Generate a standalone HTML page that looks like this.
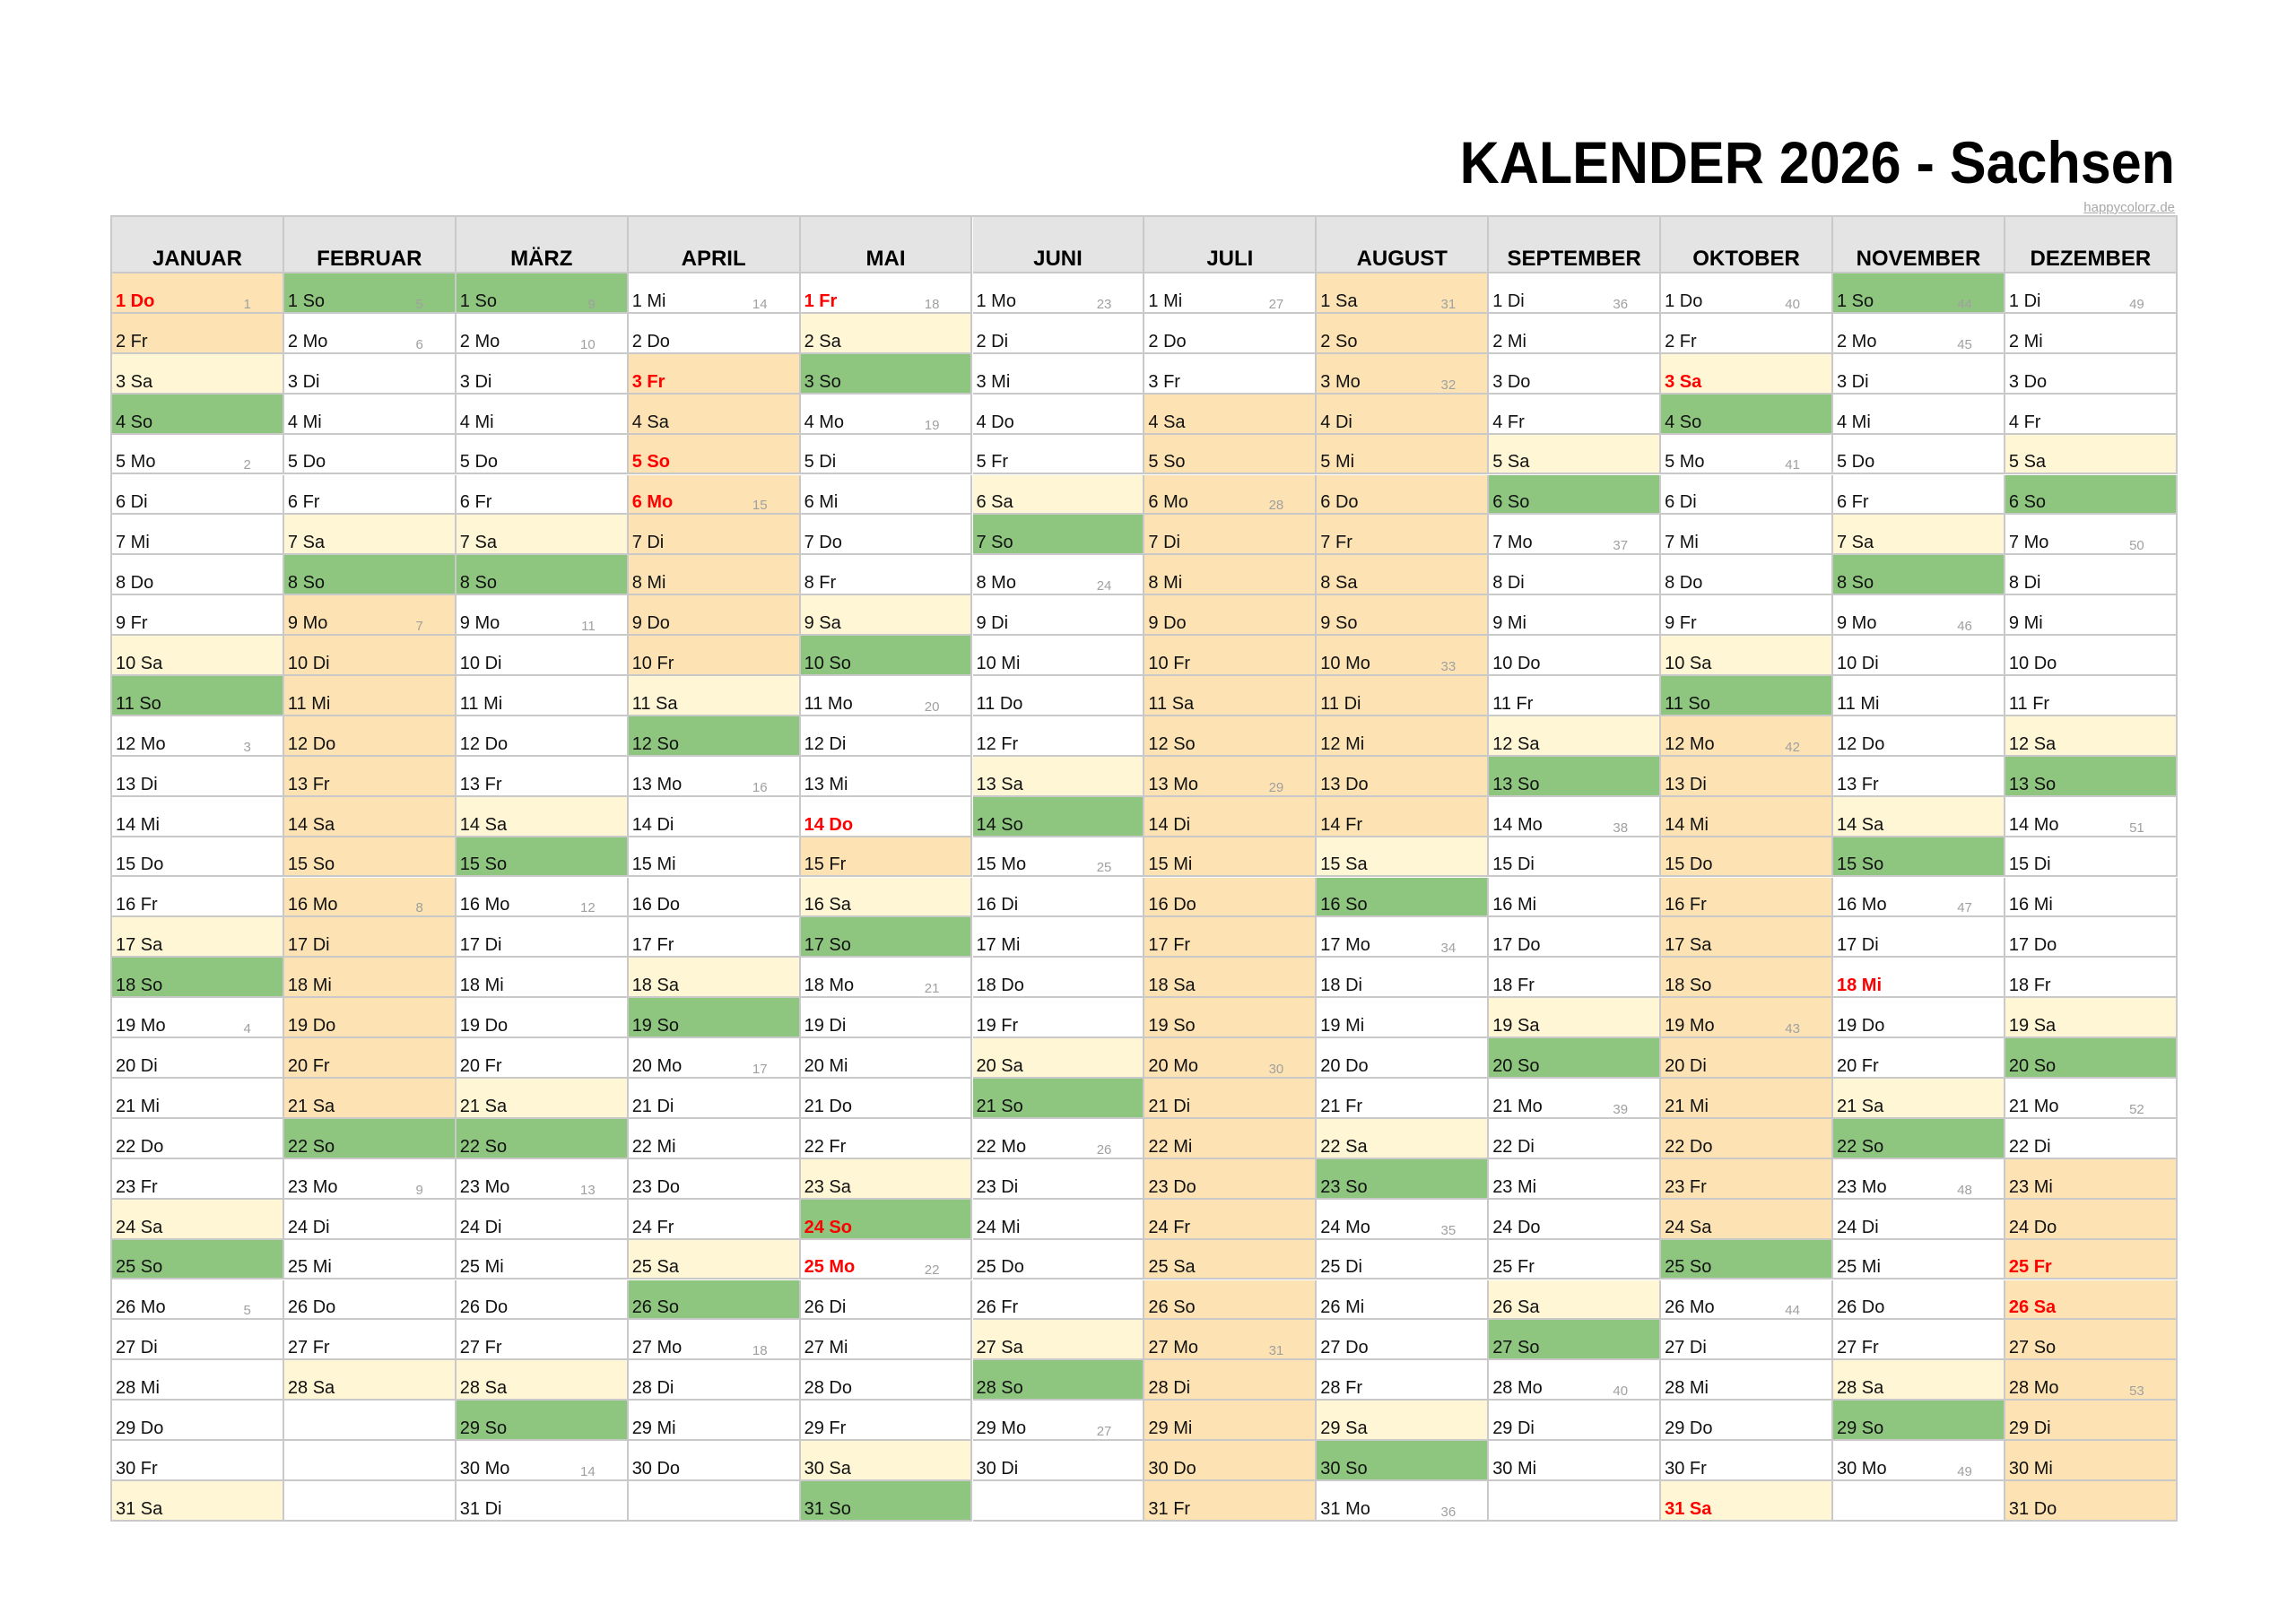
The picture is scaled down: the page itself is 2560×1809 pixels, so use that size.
<!DOCTYPE html>
<html><head><meta charset="utf-8">
<style>
html,body{margin:0;padding:0;background:#fff;}
body{width:2560px;height:1809px;position:relative;overflow:hidden;font-family:"Liberation Sans",Arial,sans-serif;}
#title{position:absolute;right:135px;top:143px;font-size:66px;font-weight:bold;color:#000;white-space:nowrap;transform:scaleX(0.925);transform-origin:right top;}
#src{position:absolute;right:135px;top:223px;font-size:15px;color:#a8a8a8;text-decoration:underline;}
.c{position:absolute;box-sizing:border-box;border-right:2px solid #c9c9c9;border-bottom:2px solid #c9c9c9;}
.h{background:#e4e4e4;font-weight:bold;font-size:24px;text-align:center;}
.h span{position:absolute;left:0;right:0;bottom:0px;}
.d{font-size:20px;color:#111;}
.d .t{position:absolute;left:4px;bottom:0px;}
.d .w{position:absolute;right:35px;bottom:0px;font-size:15px;color:#a0a0a0;}
.r{color:#ff0000;font-weight:bold;}
</style></head><body>
<div id="title">KALENDER 2026 - Sachsen</div>
<div id="src">happycolorz.de</div>
<div id="grid"></div>
<script>
var months=["JANUAR","FEBRUAR","MÄRZ","APRIL","MAI","JUNI","JULI","AUGUST","SEPTEMBER","OKTOBER","NOVEMBER","DEZEMBER"];
var lens=[31,28,31,30,31,30,31,31,30,31,30,31];
var wd=["So","Mo","Di","Mi","Do","Fr","Sa"];
var L=125,W=191.9,T=242,HH=63,RH=44.9;
var hol={"1-1":1,"4-3":1,"4-5":1,"4-6":1,"5-1":1,"5-14":1,"5-24":1,"5-25":1,"10-3":1,"10-31":1,"11-18":1,"12-25":1,"12-26":1};
function inRange(m,d,a,b){var v=m*100+d;return v>=a&&v<=b;}
function vac(m,d){return inRange(m,d,101,102)||inRange(m,d,209,221)||inRange(m,d,403,410)||inRange(m,d,515,515)||inRange(m,d,704,814)||inRange(m,d,1012,1024)||inRange(m,d,1223,1231);}
var g=document.getElementById('grid'),h='';
var off=[0];for(var i=1;i<12;i++)off[i]=off[i-1]+lens[i-1];
h+='<div style="position:absolute;left:'+(L-2)+'px;top:'+(T-2)+'px;width:'+(W*12+2)+'px;height:'+(HH+RH*31+2)+'px;border-left:2px solid #c9c9c9;border-top:2px solid #c9c9c9;box-sizing:border-box"></div>';
for(var m=0;m<12;m++){
 var x=L+m*W;
 h+='<div class="c h" style="left:'+x.toFixed(1)+'px;top:'+T+'px;width:'+W.toFixed(1)+'px;height:'+HH+'px"><span>'+months[m]+'</span></div>';
 for(var d=1;d<=31;d++){
  var y=T+HH+(d-1)*RH;
  var st='left:'+x.toFixed(1)+'px;top:'+y.toFixed(1)+'px;width:'+W.toFixed(1)+'px;height:'+RH.toFixed(1)+'px;';
  if(d>lens[m]){h+='<div class="c d" style="'+st+'"></div>';continue;}
  var doy=off[m]+d-1;
  var dow=(4+doy)%7;
  var bg='#fff';
  if(dow==6)bg='#fef6d4';
  if(dow==0)bg='#8ec67f';
  var mm=m+1;
  if(vac(mm,d))bg='#fde3b3';
  var red=hol[mm+'-'+d];
  var wk='';
  if(dow==1||d==1){
   var mon=doy-((dow+6)%7);
   var w=mon<4?1:Math.floor((mon-4)/7)+2;
   wk='<span class="w">'+w+'</span>';
  }
  h+='<div class="c d" style="'+st+'background:'+bg+'"><span class="t'+(red?' r':'')+'">'+d+' '+wd[dow]+'</span>'+wk+'</div>';
 }
}
g.innerHTML=h;
</script>
</body></html>
